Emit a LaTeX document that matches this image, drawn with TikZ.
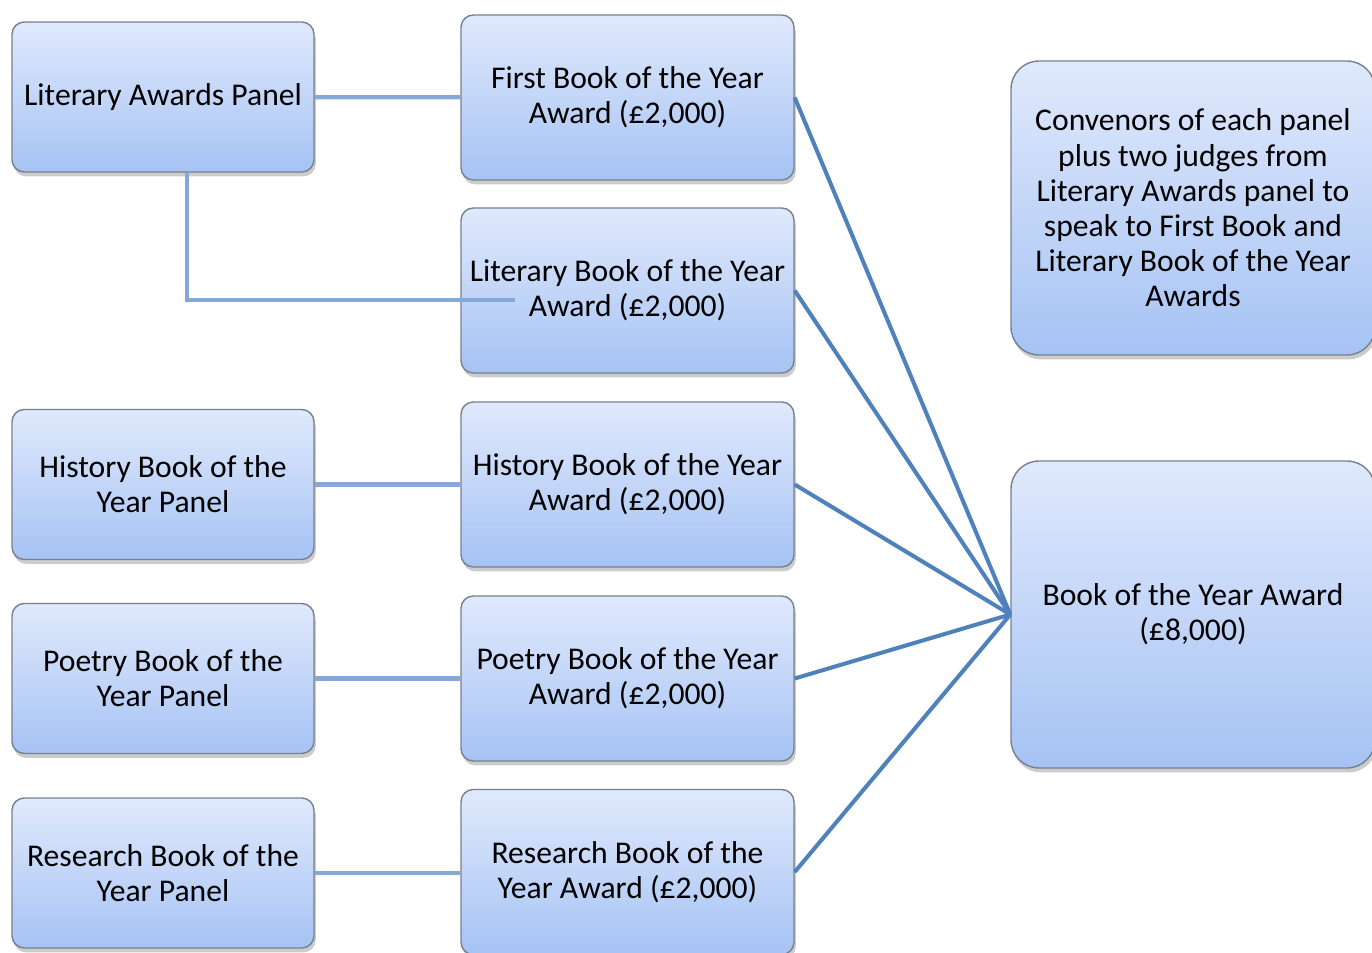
\documentclass[tikz,border=0pt]{standalone}
\usepackage{fontspec}
\setmainfont{Carlito}
\usetikzlibrary{shadows}

\definecolor{boxtop}{HTML}{E0E9FC}
\definecolor{boxbot}{HTML}{A6C3F4}
\definecolor{boxline}{HTML}{76818F}
\definecolor{panellink}{HTML}{86A8D8}
\definecolor{hublink}{HTML}{4F81BD}

\begin{document}
\begin{tikzpicture}[
    awardbox/.style={draw=boxline, line width=0.8pt, rounded corners=7pt,
        top color=boxtop, bottom color=boxbot, align=center,
        font=\fontsize{18}{20}\selectfont,
        drop shadow={opacity=0.4, shadow xshift=1pt, shadow yshift=-2.5pt}},
    panelbox/.style={awardbox, minimum width=6.04cm, minimum height=3cm},
    midbox/.style={awardbox, minimum width=6.66cm, minimum height=3.3cm},
    bigbox/.style={awardbox, rounded corners=16pt, minimum width=7.28cm},
    panelline/.style={panellink, line width=2.4pt},
    hubline/.style={hublink, line width=2.3pt}]
    \useasboundingbox (0,0) rectangle (27.44,19.04);

    % left column: panels
    \node[panelbox] (lap) at (3.26,17.1) {Literary Awards Panel};
    \node[panelbox] (hpanel) at (3.26,9.35) {History Book of the\\Year Panel};
    \node[panelbox] (ppanel) at (3.26,5.47) {Poetry Book of the\\Year Panel};
    \node[panelbox] (rpanel) at (3.26,1.58) {Research Book of the\\Year Panel};

    % middle column: awards
    \node[midbox] (first) at (12.55,17.09) {First Book of the Year\\Award (\pounds2,000)};
    \node[midbox] (litaward) at (12.55,13.23) {Literary Book of the Year\\Award (\pounds2,000)};
    \node[midbox] (haward) at (12.55,9.35) {History Book of the Year\\Award (\pounds2,000)};
    \node[midbox] (paward) at (12.55,5.47) {Poetry Book of the Year\\Award (\pounds2,000)};
    \node[midbox] (raward) at (12.55,1.6) {Research Book of the\\Year Award (\pounds2,000)};

    % right column
    \node[bigbox, minimum height=5.88cm] (conv) at (23.86,14.88)
        {Convenors of each panel\\plus two judges from\\Literary Awards panel to\\speak to First Book and\\Literary Book of the Year\\Awards};
    \node[bigbox, minimum height=6.14cm] (boty) at (23.86,6.75)
        {Book of the Year Award\\(\pounds8,000)};

    % panels to awards
    \coordinate (bend) at (3.74,13.04);
    \coordinate (litend) at (10.3,13.04);
    \draw[panelline] (lap) -- (first);
    \draw[panelline] (lap.south -| bend) -- (bend) -- (litend);
    \draw[panelline] (hpanel) -- (haward);
    \draw[panelline] (ppanel) -- (paward);
    \draw[panelline] (rpanel.east) -- (raward.west |- rpanel.east);

    % awards to Book of the Year
    \foreach \a in {first, litaward, haward, paward, raward}
        \draw[hubline] (\a.east) -- (boty.west);
\end{tikzpicture}
\end{document}
